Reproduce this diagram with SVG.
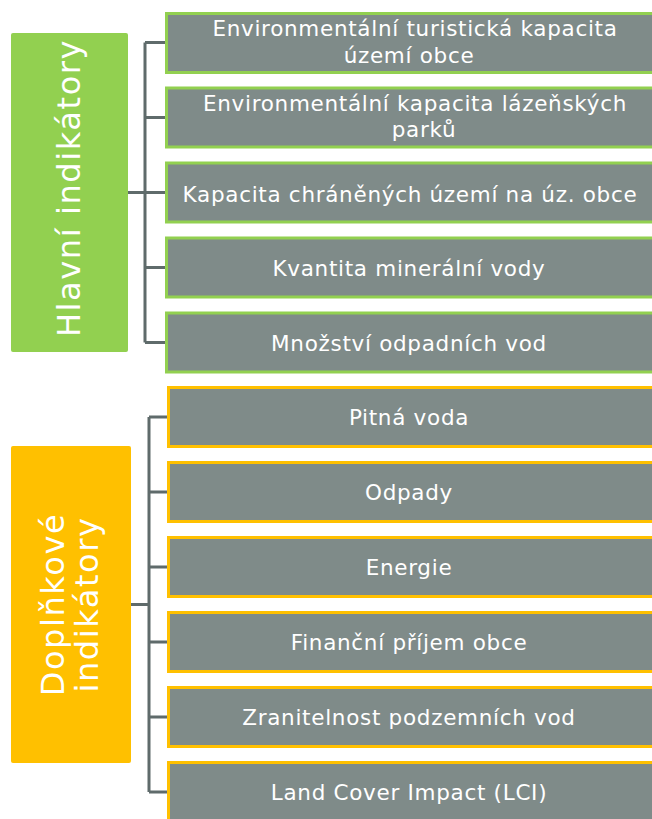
<svg xmlns="http://www.w3.org/2000/svg" width="652" height="819" viewBox="0 0 652 819">
<style>
.bg{fill:#ffffff}
.g{fill:#7f8b89;stroke:#92d050;stroke-width:3}
.o{fill:#7f8b89;stroke:#ffc000;stroke-width:3}
.t{font-family:"DejaVu Sans","Open Sans",sans-serif;font-size:21.5px;letter-spacing:0.7px;fill:#ffffff;text-anchor:middle}
.lt{font-family:"DejaVu Sans","Open Sans",sans-serif;font-size:32px;letter-spacing:1.6px;fill:#ffffff;text-anchor:middle}
.c{fill:none;stroke:#5f6b6b;stroke-width:3}
</style>
<rect class="bg" x="0" y="0" width="652" height="819"/>
<g id="connectors">
<path class="c" d="M128 192.5H145M145 42.5V342.5M145 42.5H166M145 117.5H166M145 192.5H166M145 267.5H166M145 342.5H166"/>
<path class="c" d="M131 604.5H149M149 417V792M149 417H168M149 492H168M149 567H168M149 642H168M149 717H168M149 792H168"/>
</g>
<g id="hlavni">
<rect x="11" y="33" width="117" height="319" rx="2" fill="#92d050"/>
<text class="lt" transform="translate(80,188) rotate(-90)">Hlavní indikátory</text>
</g>
<g id="g1"><rect class="g" x="166.5" y="13.5" width="495" height="59"/><text class="t" x="415" y="36">Environmentální turistická kapacita</text><text class="t" x="409" y="63">území obce</text></g>
<g id="g2"><rect class="g" x="166.5" y="88" width="495" height="59"/><text class="t" x="415" y="111">Environmentální kapacita lázeňských</text><text class="t" x="424" y="137">parků</text></g>
<g id="g3"><rect class="g" x="166.5" y="163" width="495" height="59"/><text class="t" x="410" y="202">Kapacita chráněných území na úz. obce</text></g>
<g id="g4"><rect class="g" x="166.5" y="238" width="495" height="59"/><text class="t" x="409" y="276">Kvantita minerální vody</text></g>
<g id="g5"><rect class="g" x="166.5" y="313" width="495" height="59"/><text class="t" x="409" y="351">Množství odpadních vod</text></g>
<g id="doplnkove">
<rect x="11" y="446" width="120" height="317" rx="2" fill="#ffc000"/>
<text class="lt" transform="translate(64,604.5) rotate(-90)">Doplňkové</text>
<text class="lt" transform="translate(98,604.5) rotate(-90)">indikátory</text>
</g>
<g id="o1"><rect class="o" x="168.5" y="387.5" width="495" height="59"/><text class="t" x="409" y="425">Pitná voda</text></g>
<g id="o2"><rect class="o" x="168.5" y="462.5" width="495" height="59"/><text class="t" x="409" y="500">Odpady</text></g>
<g id="o3"><rect class="o" x="168.5" y="537.5" width="495" height="59"/><text class="t" x="409" y="575">Energie</text></g>
<g id="o4"><rect class="o" x="168.5" y="612.5" width="495" height="59"/><text class="t" x="409" y="650">Finanční příjem obce</text></g>
<g id="o5"><rect class="o" x="168.5" y="687.5" width="495" height="59"/><text class="t" x="409" y="725">Zranitelnost podzemních vod</text></g>
<g id="o6"><rect class="o" x="168.5" y="762.5" width="495" height="59"/><text class="t" x="409" y="800">Land Cover Impact (LCI)</text></g>
</svg>
